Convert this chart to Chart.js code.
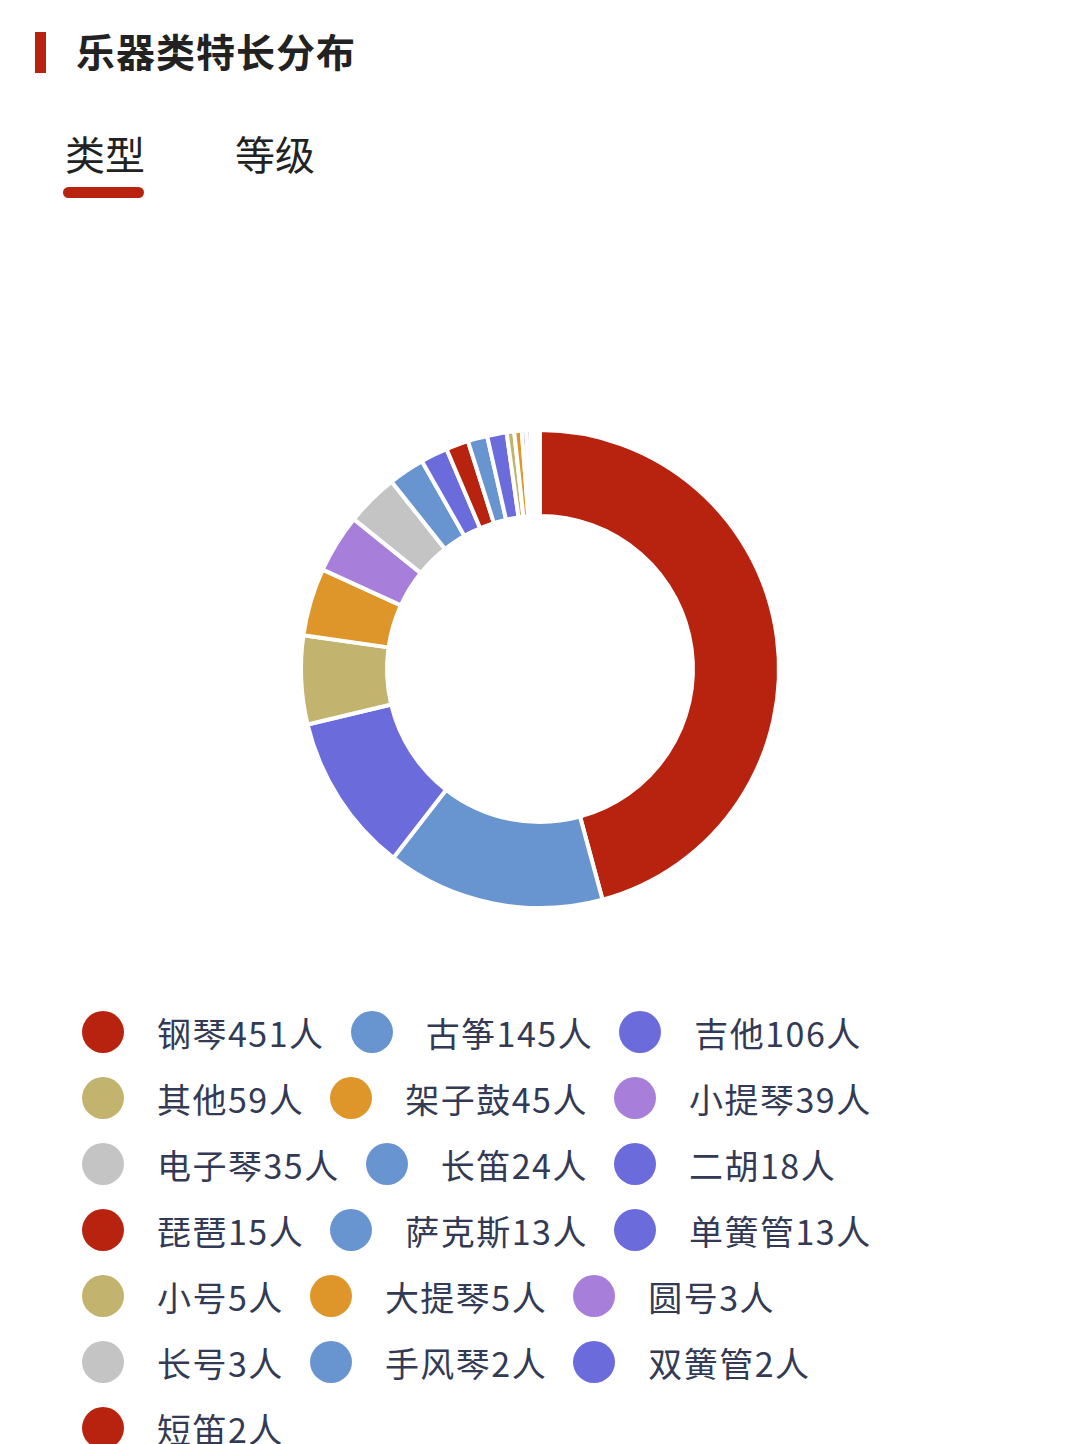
<!DOCTYPE html><html><head><meta charset="utf-8">
<script src="https://cdn.jsdelivr.net/npm/chart.js@4"></script>
<style>
body{margin:0;width:1080px;height:1444px;background:#fff;font-family:"Noto Sans CJK SC","Noto Sans",sans-serif;position:relative;overflow:hidden}
#bar{position:absolute;left:35px;top:32px;width:11px;height:41px;background:#B8230F}
#title{position:absolute;left:76px;top:24px;font-size:39px;font-weight:bold;color:#222;line-height:52px;letter-spacing:1px}
.tab{position:absolute;top:125px;font-size:40px;color:#222;line-height:56px}
#ul{position:absolute;left:63px;top:187px;width:81px;height:11px;border-radius:6px;background:#B8230F}
#wrap{position:absolute;left:0;top:428px;width:1080px;height:482px}
#legend{position:absolute;left:82px;top:999px;width:940px;display:flex;flex-wrap:wrap}
.it{display:flex;align-items:center;height:66px;margin-right:26px}
.dot{width:42px;height:42px;border-radius:50%;margin-right:33px}
.tx{font-size:34px;color:#333a55;letter-spacing:1.5px}
</style></head><body>
<div id="bar"></div><div id="title">乐器类特长分布</div>
<div class="tab" style="left:65px">类型</div><div id="ul"></div>
<div class="tab" style="left:235px">等级</div>
<div id="wrap"><canvas id="c"></canvas></div>
<div id="legend"></div>
<script>
const categories=["钢琴","古筝","吉他","其他","架子鼓","小提琴","电子琴","长笛","二胡","琵琶","萨克斯","单簧管","小号","大提琴","圆号","长号","手风琴","双簧管","短笛"];
const values=[451,145,106,59,45,39,35,24,18,15,13,13,5,5,3,3,2,2,2];
const colors=["#B8230F","#6894D0","#6B6BDB","#C2B46E","#DE962A","#A77FDA","#C4C4C4","#6894D0","#6B6BDB","#B8230F","#6894D0","#6B6BDB","#C2B46E","#DE962A","#A77FDA","#C4C4C4","#6894D0","#6B6BDB","#B8230F"];
new Chart(document.getElementById('c'),{type:'doughnut',
data:{labels:categories,datasets:[{data:values,backgroundColor:colors,borderColor:'#fff',borderWidth:4}]},
options:{responsive:true,maintainAspectRatio:false,animation:false,cutout:'64%',layout:{padding:0},
plugins:{legend:{display:false},tooltip:{enabled:false}}}});
const lg=document.getElementById('legend');
categories.forEach((c,i)=>{const d=document.createElement('div');d.className='it';
d.innerHTML=`<span class="dot" style="background:${colors[i]}"></span><span class="tx">${c}${values[i]}人</span>`;lg.appendChild(d);});
</script></body></html>
